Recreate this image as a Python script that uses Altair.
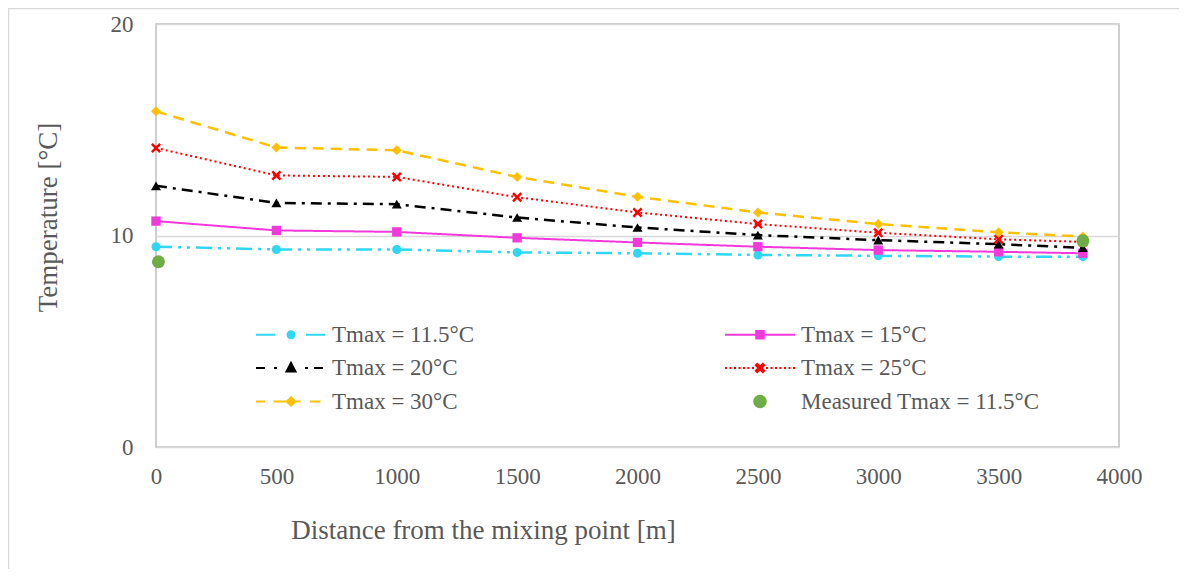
import altair as alt
import pandas as pd

# ---------------- data ----------------
distance = [0, 500, 1000, 1500, 2000, 2500, 3000, 3500, 3850]
t_11_5 = [9.47, 9.34, 9.34, 9.20, 9.16, 9.08, 9.04, 9.00, 9.00]
t_15 = [10.68, 10.24, 10.17, 9.89, 9.67, 9.47, 9.31, 9.23, 9.16]
t_20 = [12.35, 11.54, 11.48, 10.85, 10.38, 10.02, 9.78, 9.59, 9.42]
t_25 = [14.14, 12.84, 12.77, 11.81, 11.09, 10.54, 10.13, 9.82, 9.70]
t_30 = [15.87, 14.16, 14.03, 12.77, 11.83, 11.09, 10.54, 10.15, 9.95]
measured_distance = [10, 3850]
measured_temp = [8.76, 9.75]

series_names = ["Tmax = 11.5°C", "Tmax = 15°C", "Tmax = 20°C", "Tmax = 25°C", "Tmax = 30°C"]
measured_name = "Measured Tmax = 11.5°C"
x_ticks = [0, 500, 1000, 1500, 2000, 2500, 3000, 3500, 4000]
y_ticks = [0, 10, 20]

rows = []
for name, vals in zip(series_names, [t_11_5, t_15, t_20, t_25, t_30]):
    for d, v in zip(distance, vals):
        rows.append({"series": name, "distance": d, "temp": v})
for d, v in zip(measured_distance, measured_temp):
    rows.append({"series": measured_name, "distance": d, "temp": v})
df = pd.DataFrame(rows)

# ---------------- styles ----------------
FONT = "Liberation Serif"
TXT = "#595959"


def x_poly(a, t):
    pts = [(0, -t), (a - t, -a), (a, -a + t), (t, 0), (a, a - t), (a - t, a), (0, t),
           (-a + t, a), (-a, a - t), (-t, 0), (-a, -a + t), (-a + t, -a)]
    return "M" + "L".join(f"{x:.3f},{y:.3f}" for x, y in pts) + "Z"


def circle(r):
    return f"M{r},0A{r},{r} 0 1,1 {-r},0A{r},{r} 0 1,1 {r},0Z"


styles = [
    dict(color="#2FD8F2", dash=[16, 6, 3, 6, 3, 6], width=2.5, shape="circle", size=81),
    dict(color="#F23ADB", dash=[1, 0], width=2, shape="square", size=87),
    dict(color="#000000", dash=[11, 6, 3, 6], width=2.5, shape="triangle-up", size=100),
    dict(color="#FF0000", dash=[2, 3], width=2, shape=x_poly(1, 0.35), size=100),
    dict(color="#FFC000", dash=[11, 7], width=2.5, shape="diamond", size=100),
]
measured_color = "#70AD47"

# legend symbols (unit = 10 px)
dots = "".join(f"M{x:.2f},0H{x + 0.2:.2f}" for x in [-3.5 + 0.45 * i for i in range(7)])
dots += "".join(f"M{x:.2f},0H{x + 0.2:.2f}" for x in [0.6 + 0.45 * i for i in range(7)])
leg_path_by_name = {
    series_names[0]: "M-3.5,0H-1.6M1.5,0H3.4" + circle(0.35),
    series_names[1]: "M-3.5,0H3.5" + "M-0.38,-0.38H0.38V0.38H-0.38Z",
    series_names[2]: "M-3.5,0H-2.6M-1.7,0H-1.4M1.4,0H1.7M2.3,0H3.2" + "M0,-0.5L0.45,0.35L-0.45,0.35Z",
    series_names[3]: dots + x_poly(0.42, 0.14),
    series_names[4]: "M-3.5,0H-2.6M-1.75,0H-0.4M0.4,0H0.95M1.9,0H2.95" + "M0,-0.42L0.42,0L0,0.42L-0.42,0Z",
    measured_name: circle(0.58),
}
color_by_name = dict(zip(series_names, [s["color"] for s in styles]))
color_by_name[measured_name] = measured_color

# legend is filled column by column: col 1 = 11.5, 20, 30 ; col 2 = 15, 25, measured
leg_domain = [series_names[0], series_names[2], series_names[4],
              series_names[1], series_names[3], measured_name]
leg_paths = [leg_path_by_name[n] for n in leg_domain]
leg_colors = [color_by_name[n] for n in leg_domain]

# ---------------- chart ----------------
x_enc = alt.X(
    "distance:Q",
    scale=alt.Scale(domain=[0, 4000], nice=False),
    axis=alt.Axis(
        values=x_ticks, format="d", title="Distance from the mixing point [m]", grid=False,
        ticks=False, domain=False, labelPadding=29, labelBaseline="middle",
        labelFlush=False, labelOverlap=False,
        titleX=327, titleY=83, titleBaseline="middle", titleAlign="center",
    ),
)
y_enc = alt.Y(
    "temp:Q",
    scale=alt.Scale(domain=[0, 20], nice=False),
    axis=alt.Axis(
        values=y_ticks, format="d", title="Temperature [°C]", grid=True, ticks=False,
        domain=False, labelPadding=23, titleX=-108, titleY=193, titleBaseline="middle",
        titleAlign="center",
    ),
)

base = alt.Chart(df)
layers = []
for name, st in zip(series_names, styles):
    sub = base.transform_filter(alt.datum.series == name)
    layers.append(
        sub.mark_line(color=st["color"], strokeDash=st["dash"], strokeWidth=st["width"])
        .encode(x=x_enc, y=y_enc)
    )
    layers.append(
        sub.mark_point(filled=True, opacity=1, shape=st["shape"], size=st["size"],
                       color=st["color"], strokeWidth=0)
        .encode(x=x_enc, y=y_enc)
    )

layers.append(
    base.transform_filter(alt.datum.series == measured_name)
    .mark_point(filled=True, opacity=1, shape="circle", size=169, color=measured_color,
                strokeWidth=0)
    .encode(x=x_enc, y=y_enc)
)

leg = alt.Legend(
    orient="none", legendX=99, legendY=299, columns=2, columnPadding=246,
    rowPadding=9.5, labelFont=FONT, labelFontSize=23, labelColor=TXT,
    labelOffset=29.5, symbolOffset=24.5, symbolSize=400, symbolStrokeWidth=2,
    title=None, padding=0, labelLimit=500,
)
layers.append(
    base.transform_filter("false")
    .mark_point(filled=True, opacity=1, size=400, strokeWidth=2)
    .encode(
        shape=alt.Shape("series:N", scale=alt.Scale(domain=leg_domain, range=leg_paths), legend=leg),
        fill=alt.Fill("series:N", scale=alt.Scale(domain=leg_domain, range=leg_colors), legend=leg),
        stroke=alt.Stroke("series:N", scale=alt.Scale(domain=leg_domain, range=leg_colors), legend=leg),
    )
)

frame = alt.Chart(pd.DataFrame({"k": [0]})).mark_rect(
    fill=None, stroke="#d9d9d9", strokeWidth=1.5
).encode(
    x=alt.value(-147.5), x2=alt.value(1300), y=alt.value(-15.5), y2=alt.value(900)
)
layers.append(frame)

chart = (
    alt.layer(*layers)
    .properties(
        width=963, height=423,
        padding={"left": 148, "top": 16, "right": 60, "bottom": 122},
        autosize=alt.AutoSizeParams(type="none"),
    )
    .configure_view(stroke="#bfbfbf", strokeWidth=1.5)
    .configure_axis(
        labelFont=FONT, labelFontSize=23, labelColor=TXT,
        titleFont=FONT, titleFontSize=27, titleColor=TXT, titleFontWeight="normal",
        gridColor="#d9d9d9", gridWidth=1.5,
    )
)

chart.save("out.html", embed_options={"renderer": "svg", "actions": False})
